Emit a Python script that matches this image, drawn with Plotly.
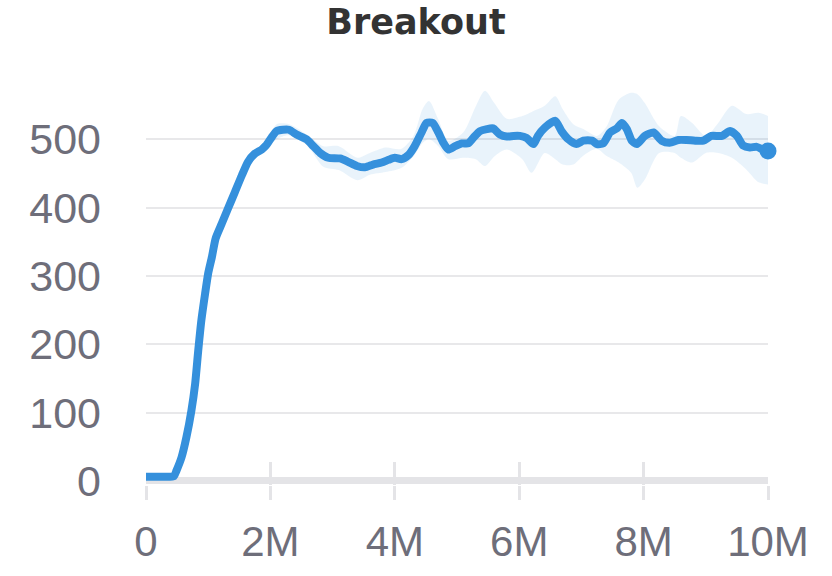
import plotly.graph_objects as go

# training steps (millions) and mean episode return
steps_m = [0, 0.3, 0.45, 0.49, 0.57, 0.65, 0.73, 0.79, 0.84, 0.89, 0.95, 1.0,
           1.06, 1.12, 1.22, 1.32, 1.43, 1.54, 1.64, 1.75, 1.86, 1.93, 2.02,
           2.1, 2.2, 2.3, 2.42, 2.58, 2.69, 2.8, 2.93, 3.12, 3.25, 3.39, 3.52,
           3.65, 3.79, 3.9, 4.0, 4.11, 4.22, 4.32, 4.43, 4.51, 4.61, 4.7, 4.78,
           4.86, 4.97, 5.08, 5.18, 5.26, 5.37, 5.48, 5.58, 5.69, 5.8, 5.91,
           6.01, 6.12, 6.23, 6.3, 6.41, 6.58, 6.68, 6.79, 6.92, 7.03, 7.17,
           7.25, 7.35, 7.46, 7.57, 7.65, 7.73, 7.81, 7.89, 8.02, 8.16, 8.29,
           8.42, 8.56, 8.69, 8.83, 8.96, 9.09, 9.26, 9.39, 9.5, 9.6, 9.71,
           9.82, 9.92, 10.0]
mean_return = [6, 6, 7, 15, 34, 64, 103, 142, 191, 235, 274, 304,
               328, 355, 377, 399, 423, 447, 467, 479, 485, 491, 503,
               512, 514, 514, 507, 500, 490, 480, 473, 472, 467, 461, 459,
               463, 466, 470, 473, 471, 477, 490, 510, 524, 524, 510, 495,
               485, 490, 494, 494, 502, 512, 515, 516, 507, 504, 505,
               505, 502, 493, 505, 517, 527, 512, 500, 493, 498, 498,
               493, 494, 510, 516, 524, 515, 498, 493, 505, 510, 498,
               495, 499, 499, 498, 498, 505, 505, 512, 505, 491, 488,
               489, 485, 483]

# spread band (min / max across seeds)
band_steps_m = [0, 0.45, 0.65, 0.84, 1.0, 1.22, 1.43, 1.64, 1.9, 2.1, 2.3,
                2.6, 2.85, 3.1, 3.4, 3.6, 3.85, 4.1, 4.3,
                4.45, 4.55, 4.7, 4.86, 5.1, 5.3, 5.45, 5.6, 5.8, 6.05, 6.2,
                6.41, 6.58, 6.7, 6.87, 7.03, 7.25, 7.4, 7.6, 7.8, 7.9, 8.02,
                8.25, 8.5, 8.6, 8.78, 9.0, 9.2, 9.42, 9.65, 9.85, 10.0]
band_low = [6, 7, 64, 191, 304, 377, 423, 467, 484, 500, 506,
            490, 460, 455, 440, 448, 452, 458, 475,
            495, 500, 490, 471, 473, 471, 461, 475, 485, 471, 451,
            480, 471, 463, 463, 476, 486, 476, 466, 451, 429, 441,
            480, 480, 473, 466, 480, 480, 473, 456, 437, 434]
band_high = [6, 7, 64, 191, 304, 377, 423, 467, 490, 522, 522,
             506, 490, 490, 473, 480, 488, 486, 505,
             545, 556, 529, 498, 510, 548, 571, 553, 530, 534, 540,
             549, 563, 544, 522, 515, 505, 518, 558, 568, 566, 553,
             519, 505, 534, 524, 505, 524, 549, 537, 539, 534]

x_ticks = [0, 2, 4, 6, 8, 10]
x_tick_text = ['0', '2M', '4M', '6M', '8M', '10M']
y_ticks = [0, 100, 200, 300, 400, 500]

BLUE = '#3590dc'
GREY_TEXT = '#6e6e7a'
GRID = '#e8e8ea'

fig = go.Figure()

fig.add_trace(go.Scatter(
    x=band_steps_m, y=band_low,
    mode='lines', line=dict(width=0, shape='spline', smoothing=0.8),
    hoverinfo='skip', showlegend=False
))
fig.add_trace(go.Scatter(
    x=band_steps_m, y=band_high,
    mode='lines', line=dict(width=0, shape='spline', smoothing=0.8),
    fill='tonexty', fillcolor='rgba(53,144,220,0.11)',
    hoverinfo='skip', showlegend=False
))

fig.add_trace(go.Scatter(
    x=steps_m, y=mean_return,
    mode='lines',
    line=dict(color=BLUE, width=8, shape='spline', smoothing=0.6),
    showlegend=False
))

# end-of-run dot
fig.add_trace(go.Scatter(
    x=steps_m[-1:], y=mean_return[-1:],
    mode='markers', marker=dict(color=BLUE, size=17),
    cliponaxis=False, showlegend=False
))

# second x axis only to draw the tick marks above the baseline
fig.add_trace(go.Scatter(x=[0], y=[0], xaxis='x2', mode='markers',
                         marker=dict(opacity=0), hoverinfo='skip',
                         showlegend=False))

fig.update_layout(
    width=832, height=576,
    margin=dict(l=146, r=64, t=71, b=91, autoexpand=False),
    paper_bgcolor='white',
    plot_bgcolor='white',
    title=dict(text='<b>Breakout</b>', x=0.5, xanchor='center',
               y=1 - 22 / 576, yanchor='middle', yref='container',
               font=dict(family='DejaVu Sans', size=35, color='#333333')),
    font=dict(family='Liberation Sans, Arial', color=GREY_TEXT),
    xaxis=dict(
        range=[0, 10], tickvals=x_ticks, ticktext=x_tick_text,
        showgrid=False, zeroline=False, showline=False,
        ticks='outside', ticklen=14, tickwidth=3, tickcolor='#e4e4e7',
        ticklabelstandoff=6, automargin=False,
        tickfont=dict(size=42, color=GREY_TEXT)
    ),
    xaxis2=dict(
        range=[0, 10], overlaying='x', anchor='y', side='bottom',
        tickvals=x_ticks, showticklabels=False,
        showgrid=False, zeroline=False, showline=False,
        ticks='inside', ticklen=23, tickwidth=3, tickcolor='#e4e4e7'
    ),
    yaxis=dict(
        range=[-6, 600], tickvals=y_ticks,
        showgrid=True, gridcolor=GRID, gridwidth=2,
        zeroline=True, zerolinecolor='#e4e4e7', zerolinewidth=7,
        showline=False, ticks='', ticklabelstandoff=44, automargin=False,
        tickfont=dict(size=43, color=GREY_TEXT)
    )
)

# drop the page's default body margin so the figure sits at the window corner
fig.write_html("out.html", config={'displayModeBar': False},
               post_script="document.body.style.margin='0';")
